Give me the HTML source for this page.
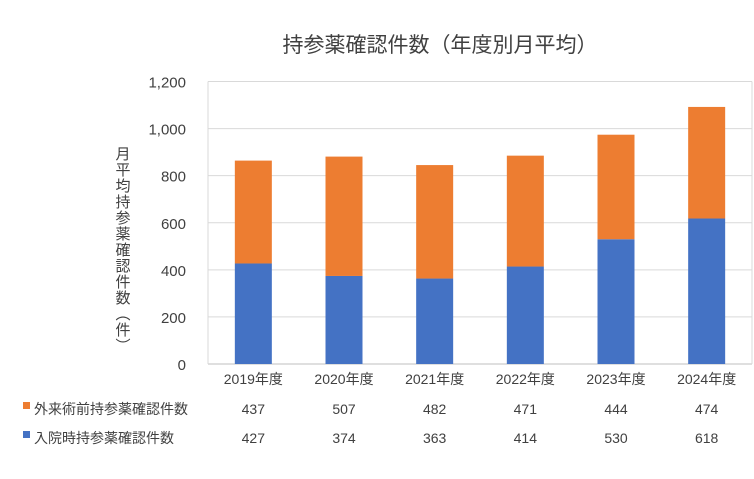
<!DOCTYPE html>
<html><head><meta charset="utf-8"><style>
body{margin:0;background:#fff;}
svg text{font-family:"Liberation Sans","Noto Sans CJK JP",sans-serif;fill:#404040;}
</style></head><body>
<svg width="754" height="474" viewBox="0 0 754 474">
<rect width="754" height="474" fill="#fff"/>
<text x="440" y="52" text-anchor="middle" font-size="21">持参薬確認件数（年度別月平均）</text>
<text x="122" y="146" font-size="15" style="writing-mode:vertical-rl;letter-spacing:1px">月平均持参薬確認件数（件）</text>
<g id="grid"></g><g id="bars"></g><g id="labels"></g>
</svg>
<script>
const categories=["2019年度","2020年度","2021年度","2022年度","2023年度","2024年度"];
const outpatient=[437,507,482,471,444,474];
const inpatient=[427,374,363,414,530,618];
const ticks=[0,200,400,600,800,1000,1200];
const tickLabels=["0","200","400","600","800","1,000","1,200"];
const NS="http://www.w3.org/2000/svg";
const L=208,R=752,T=81.5,B=364,MAX=1200;
const y=v=>B-(v/MAX)*(B-T);
const step=(R-L)/categories.length;
const x=i=>L+step*(i+0.5);
function mk(tag,attrs,parent){const e=document.createElementNS(NS,tag);for(const k in attrs)e.setAttribute(k,attrs[k]);document.getElementById(parent).appendChild(e);return e;}
ticks.forEach((t,i)=>{
 const g=mk("line",{x1:L,x2:R,y1:y(t),y2:y(t),stroke:t===0?"#bfbfbf":"#d9d9d9","stroke-width":1},"grid");
 
 
 const tx=mk("text",{x:186,y:y(t)+6,"text-anchor":"end","font-size":15},"labels");
 tx.textContent=tickLabels[i];
 
 
});
const lb=mk("line",{x1:L,x2:L,y1:T,y2:B,stroke:"#d9d9d9"},"grid");


const rb=mk("line",{x1:R,x2:R,y1:T,y2:B,stroke:"#d9d9d9"},"grid");


const bw=37;
categories.forEach((c,i)=>{
 const cx=x(i);
 const b1=mk("rect",{x:cx-bw/2,y:y(inpatient[i]),width:bw,height:B-y(inpatient[i]),fill:"#4472c4"},"bars");
 
 
 const top=inpatient[i]+outpatient[i];
 const b2=mk("rect",{x:cx-bw/2,y:y(top),width:bw,height:y(inpatient[i])-y(top),fill:"#ed7d31"},"bars");
 
 
 const cl=mk("text",{x:cx,y:384,"text-anchor":"middle","font-size":14},"labels");
 cl.textContent=c;
 
 
 const v1=mk("text",{x:cx,y:414,"text-anchor":"middle","font-size":14},"labels");
 v1.textContent=outpatient[i];
 
 
 const v2=mk("text",{x:cx,y:443,"text-anchor":"middle","font-size":14},"labels");
 v2.textContent=inpatient[i];
 
 
});
const k1=mk("rect",{x:23,y:402,width:7,height:7,fill:"#ed7d31"},"labels");


const t1=mk("text",{x:34,y:414,"font-size":14},"labels");
t1.textContent="外来術前持参薬確認件数";


const k2=mk("rect",{x:23,y:431,width:7,height:7,fill:"#4472c4"},"labels");


const t2=mk("text",{x:34,y:443,"font-size":14},"labels");
t2.textContent="入院時持参薬確認件数";


</script>
</body></html>
